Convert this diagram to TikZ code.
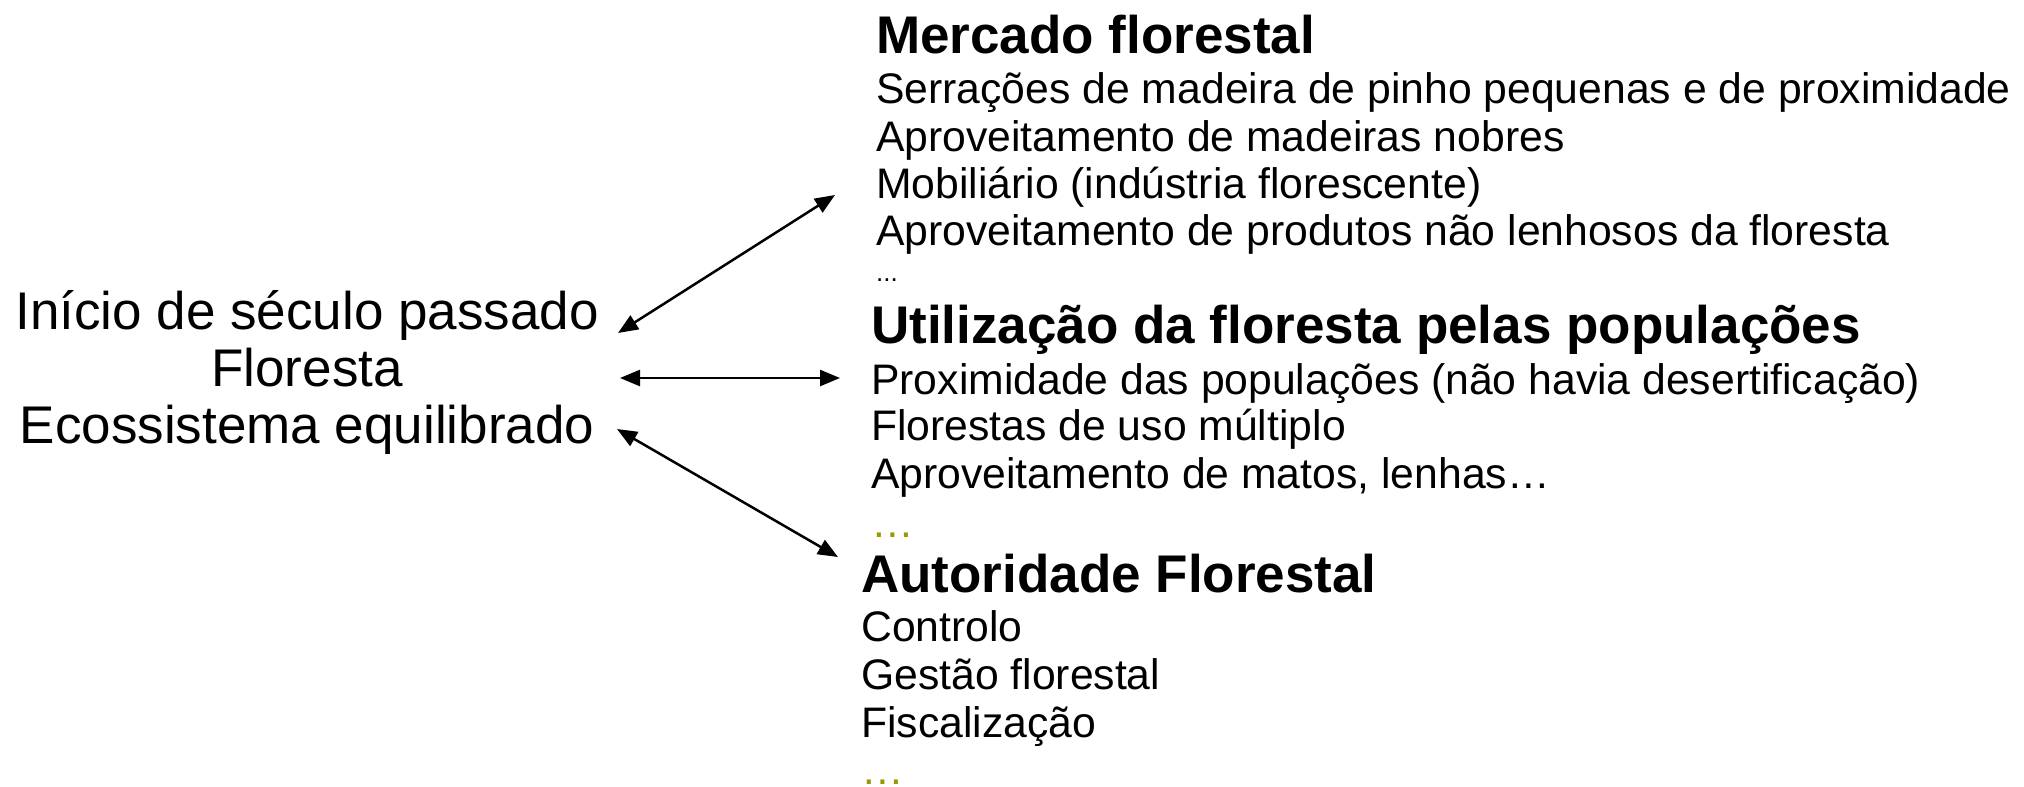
\documentclass[tikz,border=0pt]{standalone}
\usepackage{fontspec}
\setmainfont{Liberation Sans}
\usetikzlibrary{arrows.meta}
\definecolor{dotolive}{RGB}{153,153,0}
\begin{document}
\begin{tikzpicture}[x=1pt,y=-1pt,
  big/.style={font=\fontsize{53}{60}\selectfont, inner sep=0pt, anchor=base},
  head/.style={font=\fontsize{53}{60}\selectfont\bfseries, inner sep=0pt, anchor=base west},
  item/.style={font=\fontsize{42.7}{48}\selectfont, inner sep=0pt, anchor=base west},
  tiny/.style={font=\fontsize{26}{30}\selectfont, inner sep=0pt, anchor=base west},
  more/.style={item, text=dotolive, text depth=0pt, text height=8pt},
  link/.style={{Triangle[length=20pt,width=16pt]}-{Triangle[length=20pt,width=16pt]}, line width=2.5pt}]
\useasboundingbox (0,0) rectangle (2024,787);

% left block
\node[big] (l1) at (307,329) {Início de século passado};
\node[big] (l2) at (307,386) {Floresta};
\node[big] (l3) at (307,443) {Ecossistema equilibrado};

% Mercado florestal
\node[head] (m0) at (876,53) {Mercado florestal};
\node[item] (m1) at (876,103) {Serrações de madeira de pinho pequenas e de proximidade};
\node[item] (m2) at (876,151) {Aproveitamento de madeiras nobres};
\node[item] (m3) at (876,198) {Mobiliário (indústria florescente)};
\node[item] (m4) at (876,245) {Aproveitamento de produtos não lenhosos da floresta};
\node[tiny] (m5) at (876,281) {...};

% Utilizacao
\node[head] (u0) at (871,343) {Utilização da floresta pelas populações};
\node[item] (u1) at (871,394) {Proximidade das populações (não havia desertificação)};
\node[item] (u2) at (871,440) {Florestas de uso múltiplo};
\node[item] (u3) at (871,488) {Aproveitamento de matos, lenhas…};
\node[more] (u4) at (871,537) {…};

% Autoridade
\node[head] (a0) at (861,592) {Autoridade Florestal};
\node[item] (a1) at (861,641) {Controlo};
\node[item] (a2) at (861,689) {Gestão florestal};
\node[item] (a3) at (861,737) {Fiscalização};
\node[more] (a4) at (861,784) {…};

% connectors
\coordinate (s1) at (618,333); \coordinate (e1) at (835,195);
\coordinate (s2) at (620,378); \coordinate (e2) at (840,378);
\coordinate (s3) at (617,429); \coordinate (e3) at (838,557);
\draw[link] (s1) -- (e1);
\draw[link] (s2) -- (e2);
\draw[link] (s3) -- (e3);
\end{tikzpicture}
\end{document}
